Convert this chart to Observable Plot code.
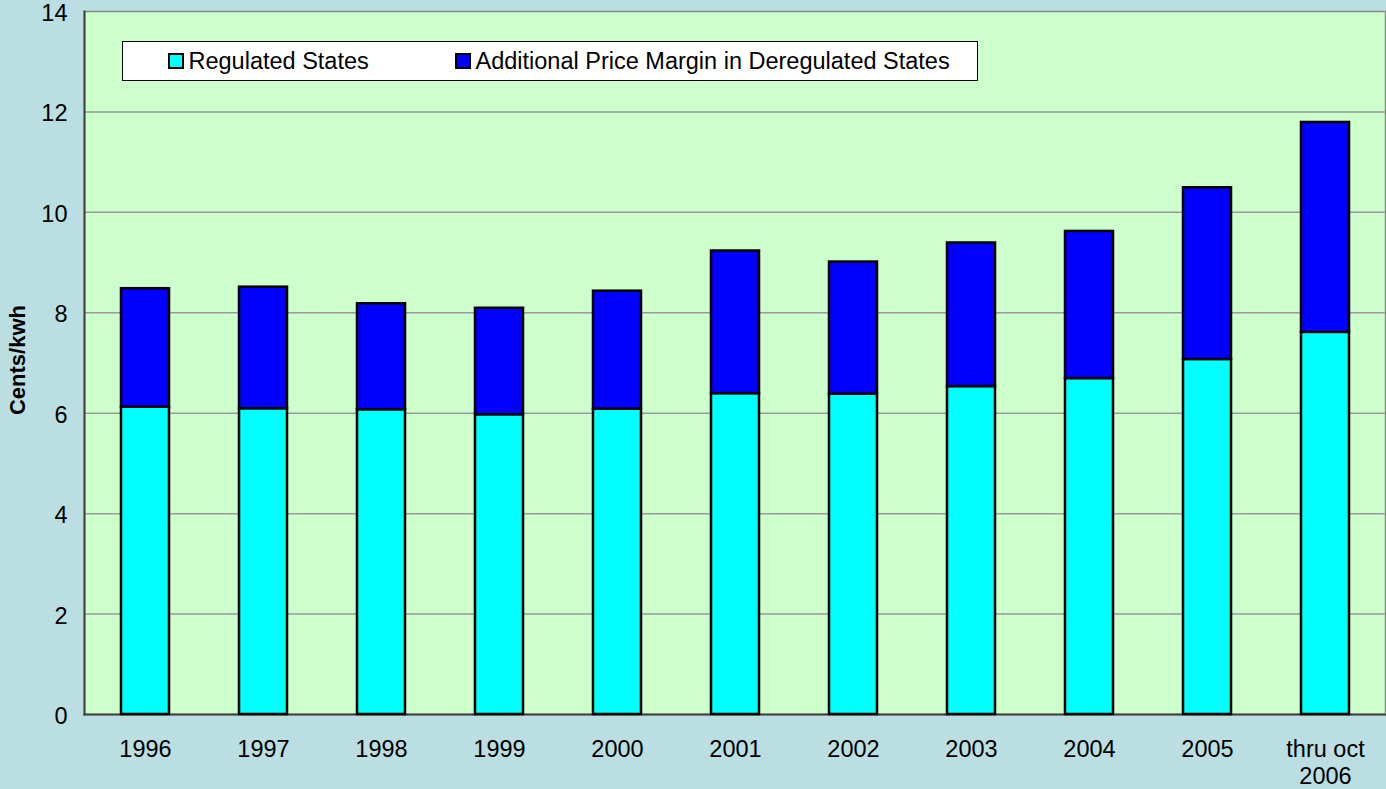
<!DOCTYPE html>
<html><head><meta charset="utf-8">
<script src="https://cdn.jsdelivr.net/npm/d3@7"></script>
<script src="https://cdn.jsdelivr.net/npm/@observablehq/plot@0.6"></script>
<style>
html,body{margin:0;padding:0;background:#BADEE1;}
#wrap{position:relative;width:1386px;height:789px;font-family:"Liberation Sans",Arial,sans-serif;overflow:hidden;}
#wrap svg{display:block;}
#legend{position:absolute;left:122px;top:41px;width:856px;height:40px;background:#fff;border:1.5px solid #000;box-sizing:border-box;}
.item{position:absolute;top:0;height:100%;display:flex;align-items:center;font-size:23.5px;color:#000;white-space:nowrap;}
.sw{width:16px;height:16px;border:2px solid #000;box-sizing:border-box;margin-right:5px;}
</style>
</head><body>
<div id="wrap"></div>
<script>
const categories = ["1996","1997","1998","1999","2000","2001","2002","2003","2004","2005","thru oct\n2006"];
const regulated = [6.12, 6.09, 6.07, 5.97, 6.08, 6.39, 6.38, 6.53, 6.69, 7.07, 7.61];
const priceMargin = [2.36, 2.42, 2.11, 2.12, 2.35, 2.84, 2.63, 2.86, 2.93, 3.42, 4.18];
const seriesNames = ["Regulated States", "Additional Price Margin in Deregulated States"];
const seriesColors = ["#00FFFF", "#0000FF"];
const yTicks = [0, 2, 4, 6, 8, 10, 12, 14];
const yLabel = "Cents/kwh";

const table = categories.flatMap((c, i) => [
  {cat: c, series: seriesNames[0], value: regulated[i]},
  {cat: c, series: seriesNames[1], value: priceMargin[i]}
]);

const chart = Plot.plot({
  width: 1386,
  height: 789,
  marginLeft: 84,
  marginRight: 1,
  marginTop: 11,
  marginBottom: 75,
  style: {background: "transparent", fontFamily: "'Liberation Sans', Arial, sans-serif", fontSize: "23.5px", color: "#000", overflow: "visible"},
  x: {domain: categories, paddingInner: 0.594, paddingOuter: 0.289, label: null},
  y: {domain: [0, 14], label: null},
  color: {domain: seriesNames, range: seriesColors},
  marks: [
    Plot.frame({fill: "#CCFFCC", stroke: "#8a8a8a", strokeWidth: 1.5}),
    Plot.gridY(yTicks.filter(d => d > 0 && d < 14), {stroke: "#999999", strokeOpacity: 1, strokeWidth: 1.5}),
    Plot.frame({anchor: "left", stroke: "#404040", strokeWidth: 2}),
    Plot.frame({anchor: "bottom", stroke: "#404040", strokeWidth: 2}),
    Plot.barY(table, {x: "cat", y: "value", fill: "series", stroke: "#000", strokeWidth: 2.5}),
    Plot.axisY(yTicks, {tickSize: 0, tickPadding: 17, dy: 2, fontSize: 23.5, fill: "#000", tickFormat: d => String(d)}),
    Plot.axisX({tickSize: 0, tickPadding: 23, lineHeight: 1.15, fontSize: 23.5, fill: "#000"}),
    Plot.text([yLabel], {frameAnchor: "left", textAnchor: "middle", dx: -67, dy: -3, rotate: -90, fontWeight: "bold", fontSize: 22, fill: "#000"})
  ]
});

const wrap = document.getElementById("wrap");
wrap.appendChild(chart);

const legend = document.createElement("div");
legend.id = "legend";
const legendPos = [44.5, 331.5];
seriesNames.forEach((name, i) => {
  const item = document.createElement("div");
  item.className = "item";
  item.style.left = legendPos[i] + "px";
  const sw = document.createElement("span");
  sw.className = "sw";
  sw.style.background = seriesColors[i];
  const t = document.createElement("span");
  t.textContent = name;
  item.appendChild(sw);
  item.appendChild(t);
  legend.appendChild(item);
});
wrap.appendChild(legend);
</script>
</body></html>
